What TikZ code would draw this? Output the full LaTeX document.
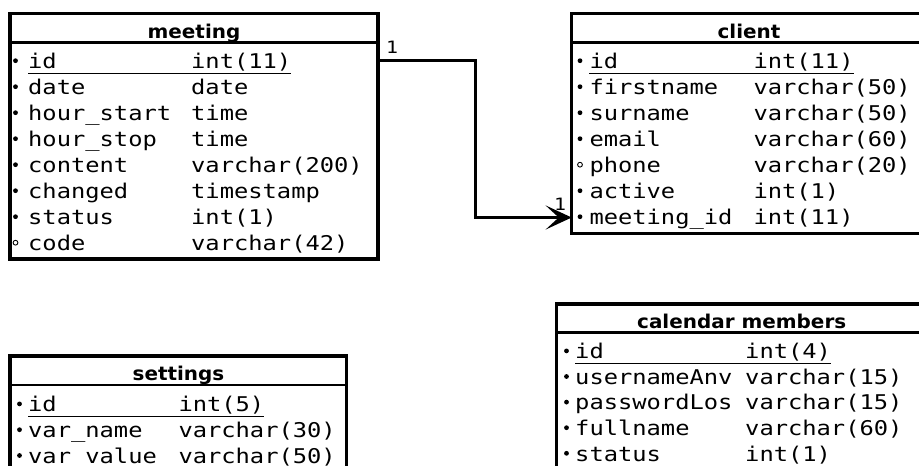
\documentclass[tikz,border=0pt]{standalone}
\usepackage{fontspec}
\usetikzlibrary{arrows.meta}
\newfontfamily\fieldfont[FakeStretch=1.17]{DejaVu Sans Mono}
\newfontfamily\titlefont[FakeStretch=1.05]{DejaVu Sans Bold}

\tikzset{
  tablebox/.style={draw=black, line width=3.2pt, rectangle, inner sep=0pt, outer sep=0pt, anchor=north west, fill=white},
  titlesep/.style={line width=2.6pt},
  titletxt/.style={font=\titlefont\fontsize{19}{19}\selectfont, inner sep=0pt, anchor=base},
  fieldtxt/.style={font=\fieldfont\fontsize{20.3}{20.3}\selectfont, inner sep=0pt, anchor=base west},
  req/.style={fill=black},
  opt/.style={draw=black, line width=0.9pt},
  uline/.style={line width=1.3pt},
  conn/.style={line width=3pt, -{Stealth[length=26pt,width=24pt,inset=13pt]}},
  cardtxt/.style={font=\fieldfont\fontsize{17}{17}\selectfont, inner sep=0pt, anchor=base west},
}

% #1 node prefix, #2 bullet x, #3 name x, #4 type x, #5 baseline y, #6 req/opt, #7 name, #8 type
\newcommand\tblrow[8]{%
  \node[fieldtxt] (#1n) at (#3,#5) {#7};
  \node[fieldtxt] (#1t) at (#4,#5) {#8};
  \path[#6] (#2,#5-7.8) circle[radius=2.4pt];
}

\begin{document}
\begin{tikzpicture}[x=1pt,y=-1pt]
  \useasboundingbox (0,0) rectangle (919,466);
  \fill[white] (0,0) rectangle (919,466);
  \clip (0,0) rectangle (919,466);

  % ---------- meeting ----------
  \node[tablebox, minimum width=368pt, minimum height=245.7pt] (mtab) at (10,13.3) {};
  \draw[titlesep] ([yshift=-29.4pt]mtab.north west) -- ([yshift=-29.4pt]mtab.north east);
  \node[titletxt] (mtitle) at (194,38.3) {meeting};
  \tblrow{m-id}{15.5}{28}{191}{68.5}{req}{id}{int(11)}
  \draw[uline] ([yshift=-5pt]m-idn.base west) -- ([yshift=-5pt]m-idt.base east);
  \tblrow{m-date}{15.5}{28}{191}{94.5}{req}{date}{date}
  \tblrow{m-hs}{15.5}{28}{191}{120.5}{req}{hour\_start}{time}
  \tblrow{m-hp}{15.5}{28}{191}{146.5}{req}{hour\_stop}{time}
  \tblrow{m-co}{15.5}{28}{191}{172.5}{req}{content}{varchar(200)}
  \tblrow{m-ch}{15.5}{28}{191}{198.5}{req}{changed}{timestamp}
  \tblrow{m-st}{15.5}{28}{191}{224.5}{req}{status}{int(1)}
  \tblrow{m-cd}{15.5}{28}{191}{250.5}{opt}{code}{varchar(42)}

  % ---------- client ----------
  \node[tablebox, minimum width=358pt, minimum height=220pt] (ctab) at (571.7,13.3) {};
  \draw[titlesep] ([yshift=-29.4pt]ctab.north west) -- ([yshift=-29.4pt]ctab.north east);
  \node[titletxt] (ctitle) at (749,38.3) {client};
  \tblrow{c-id}{580}{589.3}{753.3}{68.5}{req}{id}{int(11)}
  \draw[uline] ([yshift=-5pt]c-idn.base west) -- ([yshift=-5pt]c-idt.base east);
  \tblrow{c-fn}{580}{589.3}{753.3}{94.5}{req}{firstname}{varchar(50)}
  \tblrow{c-sn}{580}{589.3}{753.3}{120.5}{req}{surname}{varchar(50)}
  \tblrow{c-em}{580}{589.3}{753.3}{146.5}{req}{email}{varchar(60)}
  \tblrow{c-ph}{580}{589.3}{753.3}{172.5}{opt}{phone}{varchar(20)}
  \tblrow{c-ac}{580}{589.3}{753.3}{198.5}{req}{active}{int(1)}
  \tblrow{c-mid}{580}{589.3}{753.3}{224.5}{req}{meeting\_id}{int(11)}

  % ---------- settings ----------
  \node[tablebox, minimum width=336.7pt, minimum height=130pt] (stab) at (10,356) {};
  \draw[titlesep] ([yshift=-29pt]stab.north west) -- ([yshift=-29pt]stab.north east);
  \node[titletxt] (stitle) at (178.5,380.7) {settings};
  \tblrow{s-id}{19.5}{28}{178.3}{411.7}{req}{id}{int(5)}
  \draw[uline] ([yshift=-4.5pt]s-idn.base west) -- ([yshift=-4.5pt]s-idt.base east);
  \tblrow{s-vn}{19.5}{28}{178.3}{437.5}{req}{var\_name}{varchar(30)}
  \tblrow{s-vv}{19.5}{28}{178.3}{463.3}{req}{var\_value}{varchar(50)}

  % ---------- calendar members ----------
  \node[tablebox, minimum width=375pt, minimum height=200pt] (ktab) at (556.7,304) {};
  \draw[titlesep] ([yshift=-28.7pt]ktab.north west) -- ([yshift=-28.7pt]ktab.north east);
  \node[titletxt] (ktitle) at (741.7,328.3) {calendar members};
  \tblrow{k-id}{566.5}{575}{745}{358.7}{req}{id}{int(4)}
  \draw[uline] ([yshift=-5pt]k-idn.base west) -- ([yshift=-5pt]k-idt.base east);
  \tblrow{k-un}{566.5}{575}{745}{384.3}{req}{usernameAnv}{varchar(15)}
  \tblrow{k-pw}{566.5}{575}{745}{409.9}{req}{passwordLos}{varchar(15)}
  \tblrow{k-fn}{566.5}{575}{745}{435.5}{req}{fullname}{varchar(60)}
  \tblrow{k-st}{566.5}{575}{745}{461.1}{req}{status}{int(1)}

  % ---------- relation ----------
  \draw[conn] ([yshift=8pt]mtab.east |- m-idn.base) -- ++(97,0) |- ([yshift=7pt]ctab.west |- c-midn.base);
  \node[cardtxt] (card1) at (386,53) {1};
  \node[cardtxt] (card2) at (554,210) {1};
\end{tikzpicture}
\end{document}
